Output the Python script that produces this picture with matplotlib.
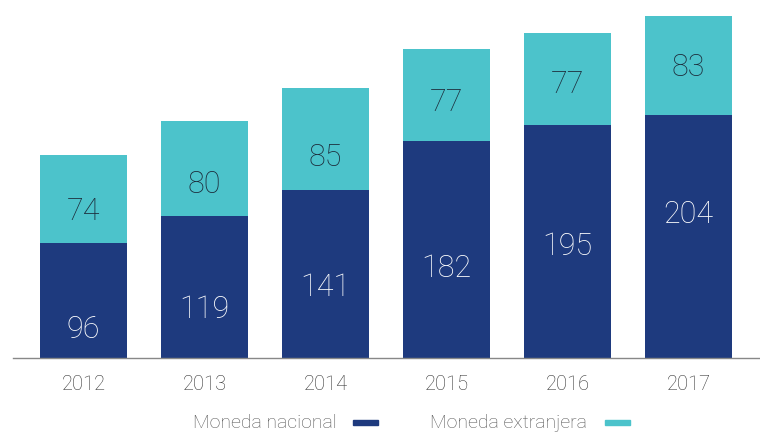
import matplotlib
matplotlib.use("Agg")
import matplotlib.pyplot as plt
from matplotlib.patches import Rectangle

# Data
years = ["2012", "2013", "2014", "2015", "2016", "2017"]
nacional = [96, 119, 141, 182, 195, 204]
extranjera = [74, 80, 85, 77, 77, 83]
series_names = ["Moneda nacional", "Moneda extranjera"]

# Styling
navy = "#1e3a7e"
teal = "#4cc3cb"
font = "Roboto"
# vertical placement of the value labels within each segment (fraction of segment height)
nac_label_pos = [0.245, 0.345, 0.42, 0.41, 0.48, 0.59]
ext_label_pos = [0.365, 0.325, 0.32, 0.415, 0.44, 0.48]

fig = plt.figure(figsize=(7.6, 4.32), dpi=100)
ax = fig.add_axes([13 / 760, (432 - 358) / 432, 1 - 13 / 760, 358 / 432])

x = list(range(len(years)))
width = 0.72
ax.bar(x, nacional, width=width, color=navy, zorder=2)
ax.bar(x, extranjera, width=width, bottom=nacional, color=teal, zorder=2)

for i in x:
    ax.text(i, nacional[i] * nac_label_pos[i], str(nacional[i]),
            ha="center", va="center", color="white", fontsize=22,
            family=font, fontweight="light", zorder=3)
    ax.text(i, nacional[i] + extranjera[i] * ext_label_pos[i], str(extranjera[i]),
            ha="center", va="center", color="#1c2b3a", fontsize=22,
            family=font, fontweight="light", zorder=3)

ax.set_xlim(-0.583, 5.59)
ax.set_ylim(0, 300)
ax.set_xticks(x)
ax.set_xticklabels(years, family=font, fontsize=14.5, color="#333333",
                   fontweight="light")
ax.tick_params(axis="x", length=0, pad=12)
ax.set_yticks([])
for side in ["top", "right", "left"]:
    ax.spines[side].set_visible(False)
ax.spines["bottom"].set_color("#888888")
ax.spines["bottom"].set_linewidth(1.0)

# Legend: label followed by a thin colour swatch
legend_items = [(series_names[0], navy, 193, 353), (series_names[1], teal, 430, 605)]
for label, color, tx, mx in legend_items:
    fig.text(tx / 760, 1 - 423 / 432, label, ha="left", va="center",
             family=font, fontsize=14, color="#555555", fontweight="light")
    fig.patches.append(Rectangle((mx / 760, 1 - 425 / 432), 25 / 760, 5 / 432,
                                 transform=fig.transFigure, color=color, figure=fig))

fig.savefig("out.png", dpi=100)
